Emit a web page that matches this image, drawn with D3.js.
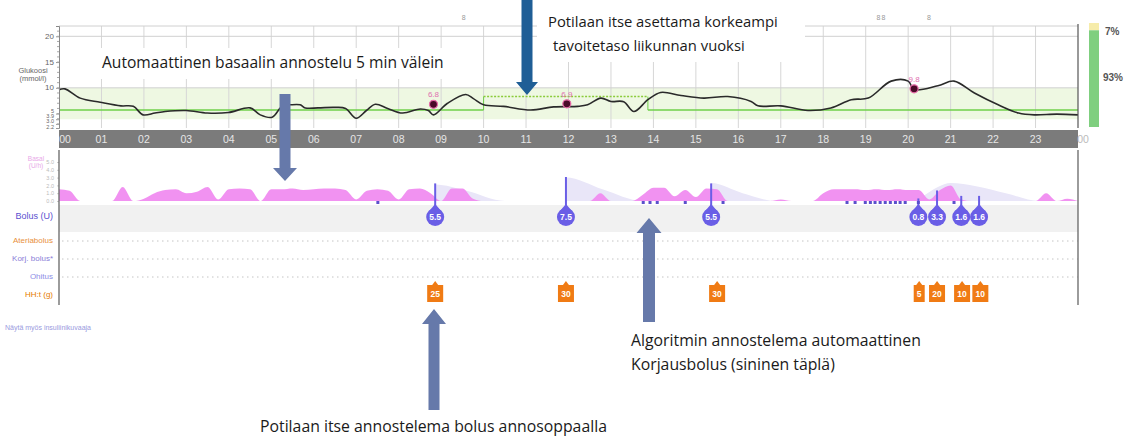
<!DOCTYPE html>
<html><head><meta charset="utf-8">
<script src="https://cdn.jsdelivr.net/npm/d3@7"></script>
<style>
body{margin:0;background:#fff;}
svg{display:block;}
</style></head>
<body><svg id="c" width="1127" height="438"></svg>
<script>
// ---------- DATA ----------
const hourLabels = ["00","01","02","03","04","05","06","07","08","09","10","11","12","13","14","15","16","17","18","19","20","21","22","23","00"];
const glucoseTickValues = [20, 15, 10, 5, 3.9, 3.0, 2.2];
const glucoseTickLabels = ["20","15","10","5","3.9","3.0","2.2"];
const glucoseHours = [0,0.14,0.5,0.97,1.46,1.75,1.98,2.26,2.5,3.0,3.49,3.99,4.5,4.74,5.02,5.26,5.45,5.68,5.8,6.1,6.49,6.75,7.0,7.24,7.45,7.74,8.09,8.51,8.7,8.82,9.15,9.58,9.76,10.0,10.47,11.11,11.65,12.22,12.45,12.76,13.0,13.3,13.54,13.87,14.17,14.65,15.19,15.75,16.3,16.46,17.0,17.64,18.18,18.66,19.06,19.6,20.0,20.14,20.7,21.08,21.56,22.12,22.6,22.97,23.5,24];
const glucoseValues = [9.65,9.8,8.0,7.2,6.5,6.4,4.75,5.1,5.4,5.6,5.1,5.2,6.1,4.75,4.3,6.5,6.7,6.7,6.1,6.1,6.2,6.0,4.1,5.6,6.8,6.0,5.1,5.9,5.6,4.75,7.0,8.7,7.9,6.7,6.4,5.7,6.3,6.4,6.7,8.0,7.35,7.3,5.4,7.7,9.1,8.5,8.0,8.3,7.35,6.5,6.5,5.6,6.1,7.7,8.0,11.3,11.3,9.65,10.4,11.3,9.0,6.7,5.1,4.75,4.9,4.75];
const bgHours = [8.82, 11.96, 20.14];
const bgValues = [6.8, 6.9, 9.8];
const targetLow = 3.9, targetHigh = 10, targetLine = 5.7, tempTarget = 8.3;
const tempTargetStart = 10.0, tempTargetEnd = 13.87;
const exerciseHours = [9.53, 19.3, 19.42, 20.49];
const timeInRangeLabels = ["7%","93%"];
const timeInRangeValues = [7, 93];

// basal rate (U/h) every 15 minutes, 00:00 ... 24:00
const basalRates = [1.5,1.3,0,0,0,0,1.8,0,0.3,1.0,1.4,1.5,1.0,1.2,1.8,0.2,1.5,1.6,1.5,0,1.5,1.5,1.6,1.4,1.5,1.6,1.6,1.4,0.2,1.3,1.5,1.3,0.2,1.5,1.6,1.0,0,1.6,1.6,0.3,
 0,0,0,0,0,0,0,0,0,0,0,1.0,0,0,0,0.8,1.7,1.7,0.6,1.4,0.5,1.6,1.5,0,0,0,0,0,0.2,0,0,0,1.0,1.5,1.5,1.5,1.4,1.5,1.4,1.5,1.4,1.4,0.2,1.4,2.0,0.2,0,0,0,0,0,0,0,1.0,0,0.3,0];
const basalTickValues = [0,1,2,3,4,5];
// active insulin (U) curve
const iobHours  = [0,8.85,8.86,9.6,10.5,11.93,11.94,12.8,13.75,15.35,15.36,16.1,16.9,20.2,20.3,20.7,21.0,21.6,22.3,23.1,24];
const iobValues = [0,0,2.1,1.3,0,0,3.0,1.5,0,0,2.3,1.0,0,0,0.4,1.8,2.3,1.9,1.0,0,0];
// boluses
const bolusHours = [8.86, 11.94, 15.36, 20.24, 20.68, 21.25, 21.67];
const bolusValues = [5.5, 7.5, 5.5, 0.8, 3.3, 1.6, 1.6];
const bolusLabels = ["5.5","7.5","5.5","0.8","3.3","1.6","1.6"];
// automatic correction boluses (small markers)
const autoBolusHours = [7.51, 13.76, 13.92, 14.09, 14.75, 15.64, 18.56, 18.75, 18.99, 19.11, 19.22, 19.34, 19.46, 19.58, 19.7, 19.81, 19.93, 20.24, 21.08];
// carbohydrates
const carbHours = [8.86, 11.94, 15.5, 20.26, 20.68, 21.27, 21.7];
const carbValues = [25, 30, 30, 5, 20, 10, 10];
const rowLabels = ["Bolus (U)","Ateriabolus","Korj. bolus*","Ohitus","HH:t (g)"];

// ---------- DRAW ----------
const svg = d3.select("#c");
const x = d3.scaleLinear().domain([0,24]).range([59,1078]);
const yG = d3.scaleLinear().domain([2.2,22]).range([128,26]);
const yB = d3.scaleLinear().domain([0,5]).range([201,162]);
const chartFont = "Liberation Sans, Arial, sans-serif";

// target band
svg.append("rect").attr("x",x(0)).attr("width",x(24)-x(0))
  .attr("y",yG(targetHigh)).attr("height",yG(targetLow)-yG(targetHigh)).attr("fill","#eef8e2");
// vertical hour grid
svg.append("g").selectAll("line").data(d3.range(1,24)).join("line")
  .attr("x1",d=>x(d)).attr("x2",d=>x(d)).attr("y1",yG(22)).attr("y2",yG(2.2))
  .attr("stroke","#d6d6d6").attr("stroke-width",1);
// horizontal grid
svg.append("g").selectAll("line").data([22,20,10]).join("line")
  .attr("x1",x(0)).attr("x2",x(24)).attr("y1",d=>yG(d)).attr("y2",d=>yG(d))
  .attr("stroke","#d0d0d0").attr("stroke-width",1);

// target line
const tl = svg.append("g").attr("stroke","#6fd04a").attr("stroke-width",1.5).attr("fill","none");
tl.append("line").attr("x1",x(0)).attr("x2",x(tempTargetStart)).attr("y1",yG(targetLine)).attr("y2",yG(targetLine));
tl.append("line").attr("x1",x(tempTargetStart)).attr("x2",x(tempTargetStart)).attr("y1",yG(targetLine)).attr("y2",yG(tempTarget)).attr("stroke-width",1);
tl.append("line").attr("x1",x(tempTargetStart)).attr("x2",x(tempTargetEnd)).attr("y1",yG(tempTarget)).attr("y2",yG(tempTarget)).attr("stroke-dasharray","2,1.5").attr("stroke","#8acb3a");
tl.append("line").attr("x1",x(tempTargetEnd)).attr("x2",x(tempTargetEnd)).attr("y1",yG(targetLine)).attr("y2",yG(tempTarget)).attr("stroke-width",1);
tl.append("line").attr("x1",x(tempTargetEnd)).attr("x2",x(24)).attr("y1",yG(targetLine)).attr("y2",yG(targetLine));

// glucose line
const gl = d3.line().x(d=>x(d[0])).y(d=>yG(d[1])).curve(d3.curveCatmullRom.alpha(0.5));
svg.append("path").datum(glucoseHours.map((h,i)=>[h,glucoseValues[i]]))
  .attr("d",gl).attr("fill","none").attr("stroke","#2a2a2a").attr("stroke-width",1.6);

// BG readings
const bg = svg.append("g");
bg.selectAll("circle").data(bgHours).join("circle")
  .attr("cx",d=>x(d)).attr("cy",(d,i)=>yG(bgValues[i])).attr("r",4)
  .attr("fill","#4a0a28").attr("stroke","#e86aa8").attr("stroke-width",1.2);
bg.selectAll("text").data(bgHours).join("text")
  .attr("x",d=>x(d)).attr("y",(d,i)=>yG(bgValues[i])-7).attr("text-anchor","middle")
  .attr("font-family",chartFont).attr("font-size",8).attr("fill","#e070b0").text((d,i)=>bgValues[i]);

// exercise icons at top
svg.append("g").selectAll("text").data(exerciseHours).join("text")
  .attr("x",d=>x(d)).attr("y",20).attr("text-anchor","middle")
  .attr("font-family",chartFont).attr("font-size",7).attr("fill","#999").text("8");

// glucose axis
const tickPos = [yG(20), yG(15), yG(10), 111, 116.5, 121.5, 127];
const ga = svg.append("g").attr("transform",`translate(${x(0)},0)`)
  .call(d3.axisLeft(yG).tickValues(glucoseTickValues).tickFormat("").tickSize(3));
ga.select(".domain").attr("stroke","#888");
ga.selectAll("line").attr("stroke","#999");
svg.append("g").selectAll("text").data(glucoseTickLabels).join("text")
  .attr("x",x(0)-5).attr("y",(d,i)=>tickPos[i]).attr("dy","0.32em").attr("text-anchor","end")
  .attr("font-family",chartFont).attr("font-size",(d,i)=> i<3 ? 8 : 5.5).attr("fill","#666").text(d=>d);
svg.append("g").selectAll("line").data(d3.range(3,22)).join("line")
  .attr("x1",x(0)-2).attr("x2",x(0)).attr("y1",d=>yG(d)).attr("y2",d=>yG(d)).attr("stroke","#aaa");
svg.append("text").attr("x",33).attr("y",73).attr("text-anchor","middle").attr("font-family",chartFont)
  .attr("font-size",7.5).attr("fill","#666").text("Glukoosi");
svg.append("text").attr("x",33).attr("y",81).attr("text-anchor","middle").attr("font-family",chartFont)
  .attr("font-size",7.5).attr("fill","#666").text("(mmol/l)");
// right frame
svg.append("line").attr("x1",x(24)).attr("x2",x(24)).attr("y1",yG(22)-2).attr("y2",yG(2.2)).attr("stroke","#555").attr("stroke-width",1.2);

// hour band
svg.append("rect").attr("x",x(0)).attr("y",130).attr("width",x(24)-x(0)).attr("height",18).attr("fill","#7b7b7b");
svg.append("g").selectAll("text").data(hourLabels).join("text")
  .attr("x",(d,i)=> i===0 ? x(0)+6 : (i===24 ? x(24)+5 : x(i)))
  .attr("y",143).attr("text-anchor","middle").attr("font-family",chartFont).attr("font-size",10.5)
  .attr("fill",(d,i)=> i===24 ? "#bbb" : "#e6e6e6").text(d=>d);

// time in range bar
const tirY = d3.scaleLinear().domain([0,100]).range([127,23]);
svg.append("rect").attr("x",1089).attr("width",10).attr("y",tirY(100)).attr("height",tirY(93)-tirY(100)).attr("fill","#f6ecaa");
svg.append("rect").attr("x",1089).attr("width",10).attr("y",tirY(93)).attr("height",tirY(0)-tirY(93)).attr("fill","#7fcf7f");
svg.append("text").attr("x",1105).attr("y",35).attr("font-family",chartFont).attr("font-size",10).attr("font-weight","bold").attr("fill","#555").text(timeInRangeLabels[0]);
svg.append("text").attr("x",1103).attr("y",81).attr("font-family",chartFont).attr("font-size",10).attr("font-weight","bold").attr("fill","#555").text(timeInRangeLabels[1]);

// ---------- LOWER PANEL ----------
svg.append("rect").attr("x",x(0)).attr("y",205).attr("width",x(24)-x(0)).attr("height",27).attr("fill","#f1f1f1");
// active insulin
svg.append("path").datum(iobHours.map((h,i)=>[h,iobValues[i]]))
  .attr("d",d3.area().x(d=>x(d[0])).y0(yB(0)).y1(d=>yB(d[1])).curve(d3.curveMonotoneX))
  .attr("fill","#e9e6f8");
// basal
svg.append("path").datum(basalRates.map((v,i)=>[i*0.25,v]))
  .attr("d",d3.area().x(d=>x(d[0])).y0(yB(0)).y1(d=>yB(d[1])).curve(d3.curveMonotoneX))
  .attr("fill","#f08cf0").attr("fill-opacity",0.95);
// basal axis
const ba = svg.append("g").attr("transform",`translate(${x(0)},0)`)
  .call(d3.axisLeft(yB).tickValues(basalTickValues).tickSize(2));
ba.select(".domain").remove();
ba.selectAll("line").attr("stroke","#ccc");
ba.selectAll("text").attr("font-family",chartFont).attr("font-size",5.5).attr("fill","#bbb");
svg.append("text").attr("x",36).attr("y",161).attr("text-anchor","middle").attr("font-family",chartFont).attr("font-size",6.5).attr("fill","#e8a8e8").text("Basal");
svg.append("text").attr("x",36).attr("y",168).attr("text-anchor","middle").attr("font-family",chartFont).attr("font-size",6.5).attr("fill","#e8a8e8").text("(U/h)");

// bolus lines
svg.append("g").selectAll("line").data(bolusHours).join("line")
  .attr("x1",d=>x(d)).attr("x2",d=>x(d)).attr("y1",(d,i)=>yB(bolusValues[i]*0.41)).attr("y2",206)
  .attr("stroke","#6a5ee6").attr("stroke-width",2);
// auto correction dots
svg.append("g").selectAll("rect").data(autoBolusHours).join("rect")
  .attr("x",d=>x(d)-1.5).attr("y",201).attr("width",3).attr("height",3).attr("fill","#5b50cc");
// bolus drops
const bd = svg.append("g").selectAll("g").data(bolusHours).join("g").attr("transform",d=>`translate(${x(d)},217)`);
bd.append("path").attr("d","M0,-13 L6,-6 L-6,-6 Z").attr("fill","#6a5ee6");
bd.append("circle").attr("r",9).attr("fill","#6a5ee6");
bd.append("text").attr("y",3).attr("text-anchor","middle").attr("font-family",chartFont).attr("font-size",8.5)
  .attr("font-weight","bold").attr("fill","#fff").text((d,i)=>bolusLabels[i]);

// dotted rows
svg.append("g").selectAll("line").data([241,259,277]).join("line")
  .attr("x1",x(0)+3).attr("x2",x(24)).attr("y1",d=>d).attr("y2",d=>d)
  .attr("stroke","#c4c4c4").attr("stroke-width",1).attr("stroke-dasharray","1.5,3.5");

// carbs
const cb = svg.append("g").selectAll("g").data(carbHours).join("g").attr("transform",d=>`translate(${x(d)},0)`);
cb.append("path").attr("d","M-3,285 L0,281 L3,285 Z").attr("fill","#f07b14");
cb.append("rect").attr("x",(d,i)=> carbValues[i]<10 ? -5.5 : -8).attr("y",285)
  .attr("width",(d,i)=> carbValues[i]<10 ? 11 : 16).attr("height",17).attr("fill","#f07b14");
cb.append("text").attr("y",297).attr("text-anchor","middle").attr("font-family",chartFont).attr("font-size",8.5)
  .attr("font-weight","bold").attr("fill","#fff").text((d,i)=>carbValues[i]);

// axis lines lower panel
svg.append("line").attr("x1",x(0)).attr("x2",x(0)).attr("y1",150).attr("y2",305).attr("stroke","#666").attr("stroke-width",1.3);
svg.append("line").attr("x1",x(24)).attr("x2",x(24)).attr("y1",150).attr("y2",305).attr("stroke","#666").attr("stroke-width",1.3);

// row labels
const rowY = [219,243,261,279,297];
const rowColors = ["#5a4fcf","#e8903c","#8a80d8","#8e8ee6","#e57a00"];
svg.append("g").selectAll("text").data(rowLabels).join("text")
  .attr("x",53).attr("y",(d,i)=>rowY[i]).attr("text-anchor","end").attr("font-family",chartFont)
  .attr("font-size",(d,i)=> i===0 ? 9 : 8).attr("fill",(d,i)=>rowColors[i]).text(d=>d);
svg.append("text").attr("x",5).attr("y",330).attr("font-family",chartFont).attr("font-size",7).attr("fill","#9a9ae0").text("Näytä myös insuliinikuvaaja");

// ---------- ANNOTATIONS ----------
const annFont = "Open Sans, Noto Sans, sans-serif";
svg.append("rect").attr("x",90).attr("y",48).attr("width",372).attr("height",31).attr("fill","#fff");
svg.append("text").attr("x",102).attr("y",68).attr("font-family",annFont).attr("font-size",15.6).attr("fill","#1a1a1a")
  .text("Automaattinen basaalin annostelu 5 min välein");
svg.append("rect").attr("x",537).attr("y",0).attr("width",268).attr("height",62).attr("fill","#fff");
svg.append("text").attr("x",548).attr("y",27).attr("font-family",annFont).attr("font-size",14.8).attr("fill","#1a1a1a")
  .text("Potilaan itse asettama korkeampi");
svg.append("text").attr("x",553).attr("y",51).attr("font-family",annFont).attr("font-size",14.8).attr("fill","#1a1a1a")
  .text("tavoitetaso liikunnan vuoksi");
svg.append("text").attr("x",631).attr("y",346).attr("font-family",annFont).attr("font-size",15.8).attr("fill","#1a1a1a")
  .text("Algoritmin annostelema automaattinen");
svg.append("text").attr("x",631).attr("y",370).attr("font-family",annFont).attr("font-size",15.8).attr("fill","#1a1a1a")
  .text("Korjausbolus (sininen täplä)");
svg.append("text").attr("x",260).attr("y",432).attr("font-family",annFont).attr("font-size",15.8).attr("fill","#1a1a1a")
  .text("Potilaan itse annostelema bolus annosoppaalla");

function arrow(cx, y0, y1, color, shaftW, headW, headH){
  const dir = y1 > y0 ? 1 : -1;
  const yh = y1 - dir*headH;
  const p = `M${cx-shaftW/2},${y0} L${cx+shaftW/2},${y0} L${cx+shaftW/2},${yh} L${cx+headW/2},${yh} L${cx},${y1} L${cx-headW/2},${yh} L${cx-shaftW/2},${yh} Z`;
  svg.append("path").attr("d",p).attr("fill",color);
}
arrow(285, 94, 181, "#6679aa", 11, 24, 13);
arrow(527, 0, 95, "#1f5e96", 11, 22, 13);
arrow(649, 322, 218, "#6679aa", 12, 25, 15);
arrow(434, 410, 309, "#6679aa", 11, 24, 15);
</script></body></html>
